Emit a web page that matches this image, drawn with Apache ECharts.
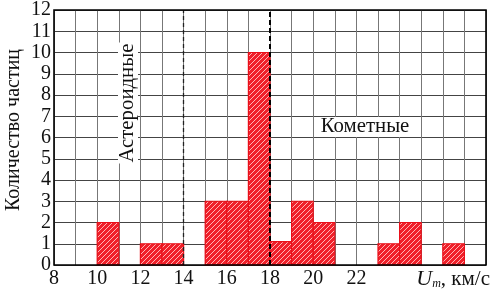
<!DOCTYPE html>
<html><head><meta charset="utf-8">
<script src="https://cdn.jsdelivr.net/npm/echarts@6/dist/echarts.min.js"></script>
<style>html,body{margin:0;padding:0;background:#fff}#c{width:493px;height:292px}</style>
</head><body><div id="c"></div>
<script>
const binStart = [10, 12, 13, 15, 16, 17, 18, 19, 20, 23, 24, 26];
const counts   = [2, 1, 1, 3, 3, 10, 1.1, 3, 2, 1, 2, 1];
const xTicks = [8, 10, 12, 14, 16, 18, 20, 22];
const yTicks = [0,1,2,3,4,5,6,7,8,9,10,11,12];
const boundaries = [14, 18];

const FONT = '"Liberation Serif", "DejaVu Serif", serif';

// hatch pattern
const pc = document.createElement('canvas');
pc.width = 5; pc.height = 5;
const g = pc.getContext('2d');
g.fillStyle = '#f0202a'; g.fillRect(0,0,5,5);
g.strokeStyle = 'rgba(255,190,190,0.95)'; g.lineWidth = 1;
g.beginPath();
g.moveTo(0,5); g.lineTo(5,0);
g.moveTo(-1,1); g.lineTo(1,-1);
g.moveTo(4,6); g.lineTo(6,4);
g.stroke();

const data = binStart.map((s,i)=>[s, counts[i]]);
const chart = echarts.init(document.getElementById('c'), null, {renderer:'canvas'});
chart.setOption({
  animation:false,
  grid:{left:54, right:7, top:8, bottom:27, containLabel:false},
  xAxis:{type:'value', min:8, max:28, interval:1,
    axisLine:{show:false}, axisTick:{show:false},
    splitLine:{show:true, lineStyle:{color:'#777', width:1}},
    axisLabel:{fontFamily:FONT, fontSize:20, color:'#111', margin:4,
      formatter:v=> xTicks.includes(v) ? String(v) : ''}
  },
  yAxis:{type:'value', min:0, max:12, interval:1,
    axisLine:{show:false}, axisTick:{show:false},
    splitLine:{show:true, lineStyle:{color:'#444', width:1}},
    axisLabel:{fontFamily:FONT, fontSize:20, color:'#111', margin:3,
      formatter:v=> yTicks.includes(v) ? String(v) : ''}
  },
  series:[{
    type:'custom',
    data:data,
    renderItem:(params, api)=>{
      const x0 = api.value(0), y = api.value(1);
      const p0 = api.coord([x0, y]);
      const p1 = api.coord([x0+1, 0]);
      return {type:'rect', shape:{x:p0[0], y:p0[1], width:p1[0]-p0[0], height:p1[1]-p0[1]},
        style:{fill:{image:pc, repeat:'repeat'}, stroke:'#e8101a', lineWidth:1.2}};
    },
    markLine:{silent:true, symbol:'none', label:{show:false},
      data:[
        {xAxis:boundaries[0], lineStyle:{color:'#222', width:1.3, type:[4,3]}},
        {xAxis:boundaries[1], lineStyle:{color:'#000', width:2, type:[5,3]}}
      ]},
    z:3
  },{
    type:'custom', data:[[0]], silent:true, z:5,
    renderItem:(params, api)=>{
      const a = api.coord([8,12]), b = api.coord([28,0]);
      return {type:'rect', shape:{x:a[0], y:a[1], width:b[0]-a[0], height:b[1]-a[1]},
        style:{fill:'none', stroke:'#000', lineWidth:1.6}};
    }
  }],
  graphic:[
    {type:'text', x:14, y:130, rotation:Math.PI/2, style:{text:'Количество частиц', font:'20px '+FONT, fill:'#111', textAlign:'center', textVerticalAlign:'middle'}},
    {type:'text', x:128, y:103, rotation:Math.PI/2, scaleX:1.04, z:10, style:{text:'Астероидные', font:'20px '+FONT, fill:'#111', textAlign:'center', textVerticalAlign:'middle', backgroundColor:'#fff', padding:[0,1]}},
    {type:'text', x:365, y:127, z:10, scaleX:1.04, style:{text:'Кометные', font:'20px '+FONT, fill:'#111', textAlign:'center', textVerticalAlign:'middle', backgroundColor:'#fff', padding:[0,1]}},
    {type:'text', x:490, y:279, z:10, style:{
      rich:{u:{fontFamily:FONT, fontStyle:'italic', fontSize:22, fill:'#111'},
            m:{fontFamily:FONT, fontStyle:'italic', fontSize:12, fill:'#111', verticalAlign:'bottom', padding:[9,0,0,0]},
            t:{fontFamily:FONT, fontSize:21, fill:'#111'}},
      text:'{u|U}{m|m}{t|, км/с}', textAlign:'right', textVerticalAlign:'middle', backgroundColor:'#fff'}}
  ]
});
</script></body></html>
